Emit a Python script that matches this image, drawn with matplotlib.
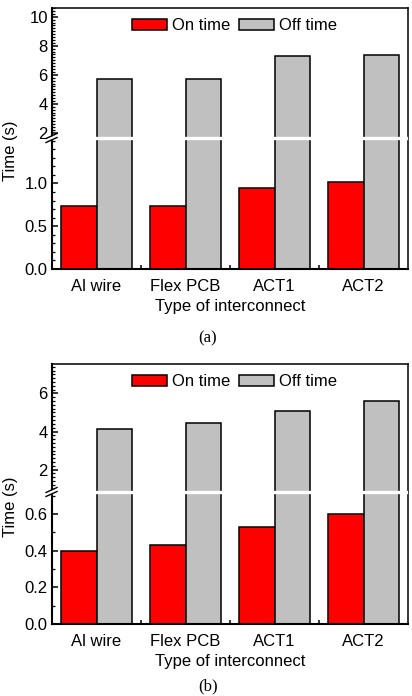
import numpy as np
import matplotlib
matplotlib.use("Agg")
import matplotlib.pyplot as plt
from matplotlib.ticker import MultipleLocator, FormatStrFormatter, FixedLocator
from matplotlib.lines import Line2D
from matplotlib.patches import Polygon

plt.rcParams['font.family'] = ['Liberation Sans', 'DejaVu Sans']
plt.rcParams['font.size'] = 12

#=== Data ===
categories = ["Al wire", "Flex PCB", "ACT1", "ACT2"]
on_time_a = [0.74, 0.74, 0.95, 1.02]
off_time_a = [5.72, 5.72, 7.31, 7.36]
on_time_b = [0.40, 0.43, 0.53, 0.60]
off_time_b = [4.12, 4.46, 5.07, 5.58]
ticks_low_a = [0.0, 0.5, 1.0]
ticks_low_b = [0.0, 0.2, 0.4, 0.6]

W, H = 412, 696
fig = plt.figure(figsize=(W/100, H/100), dpi=100)

def fx(x):
    return x / W

def fy(y):
    return 1 - y / H

def px_rect(left, top, right, bottom):
    return [fx(left), fy(bottom), (right-left)/W, (bottom-top)/H]

def style_ax(ax, lw_left=1.5):
    for s in ["top", "right", "bottom"]:
        ax.spines[s].set_linewidth(1.1)
    ax.spines["left"].set_linewidth(lw_left)
    ax.spines["bottom"].set_linewidth(lw_left)
    ax.tick_params(axis="y", which="major", direction="in", length=4, width=1.1, right=False, labelsize=12, pad=3)
    ax.tick_params(axis="y", which="minor", direction="in", length=2.2, width=0.9, right=False)
    ax.set_xlim(-0.5, len(categories)-0.5)

def draw_bars(ax, on, off):
    x = np.arange(len(categories))
    b1 = ax.bar(x-0.2, on, width=0.4, color="#ff0000", edgecolor="black", linewidth=1.1, label="On time")
    b2 = ax.bar(x+0.2, off, width=0.4, color="#c0c0c0", edgecolor="black", linewidth=1.1, label="Off time")
    return b1, b2

def panel(on, off, top, brk, bottom, ylim_up, ylim_low, up_major, up_minor,
          low_ticks, low_minor, tag, tag_y, ylabel_y, left=52, right=408):
    ax_up = fig.add_axes(px_rect(left, top, right, brk))
    ax_low = fig.add_axes(px_rect(left, brk, right, bottom))
    for ax in (ax_up, ax_low):
        draw_bars(ax, on, off)
        style_ax(ax)
    # upper part
    ax_up.set_ylim(*ylim_up)
    ax_up.spines["bottom"].set_visible(False)
    ax_up.yaxis.set_major_locator(MultipleLocator(up_major))
    ax_up.yaxis.set_minor_locator(MultipleLocator(up_minor))
    ax_up.yaxis.set_major_formatter(FormatStrFormatter("%d"))
    ax_up.set_xticks([])
    ax_up.tick_params(axis="x", which="both", bottom=False, labelbottom=False)
    # lower part
    ax_low.set_ylim(*ylim_low)
    ax_low.spines["top"].set_visible(False)
    ax_low.yaxis.set_major_locator(FixedLocator(low_ticks))
    ax_low.yaxis.set_minor_locator(MultipleLocator(low_minor))
    ax_low.yaxis.set_major_formatter(FormatStrFormatter("%.1f"))
    ax_low.set_xticks(np.arange(len(categories)))
    ax_low.set_xticklabels(categories)
    ax_low.xaxis.set_minor_locator(FixedLocator(np.arange(len(categories)-1)+0.5))
    ax_low.tick_params(axis="x", which="major", length=0, pad=7, labelsize=12)
    ax_low.tick_params(axis="x", which="minor", direction="in", length=3, width=1.1)
    ax_low.set_xlabel("Type of interconnect", fontsize=12, labelpad=4)

    # legend
    h1, h2 = ax_up.get_legend_handles_labels()
    ax_up.legend(h1, h2, loc="center", bbox_to_anchor=(0.512, 0.862), ncol=2,
                 frameon=False, handlelength=2.1, handleheight=0.66,
                 handletextpad=0.3, columnspacing=0.55, fontsize=12, borderaxespad=0)

    # axis break: white gap across bars and slashes on left spine
    fig.add_artist(Line2D([fx(left+1), fx(right-2)], [fy(brk), fy(brk)],
                          color="white", linewidth=2.4, zorder=5))
    fig.add_artist(Polygon([(fx(left-6), fy(brk+4)), (fx(left+5), fy(brk-1)),
                            (fx(left+5), fy(brk-4)), (fx(left-6), fy(brk+1))],
                           closed=True, facecolor="white", edgecolor="none", zorder=6))
    for dy in (-2.5, 1.5):
        fig.add_artist(Line2D([fx(left-6), fx(left+5)], [fy(brk+dy+3), fy(brk+dy-2)],
                              color="black", linewidth=1.0, zorder=7))

    fig.text(fx(10), fy(ylabel_y), "Time (s)", rotation=90, ha="center", va="center", fontsize=12)
    fig.text(fx(208), fy(tag_y), tag, ha="center", va="center", fontsize=12,
             family=["Liberation Serif", "DejaVu Serif"])
    return ax_up, ax_low

panel(on_time_a, off_time_a, top=8, brk=138, bottom=269,
      ylim_up=(1.65, 10.6), ylim_low=(0, 1.53), up_major=2, up_minor=0.2,
      low_ticks=ticks_low_a, low_minor=0.1, tag="(a)", tag_y=338, ylabel_y=151)

panel(on_time_b, off_time_b, top=364, brk=492, bottom=624,
      ylim_up=(0.82, 7.55), ylim_low=(0, 0.72), up_major=2, up_minor=0.2,
      low_ticks=ticks_low_b, low_minor=0.1, tag="(b)", tag_y=686, ylabel_y=507)

fig.savefig("out.png", dpi=100)
